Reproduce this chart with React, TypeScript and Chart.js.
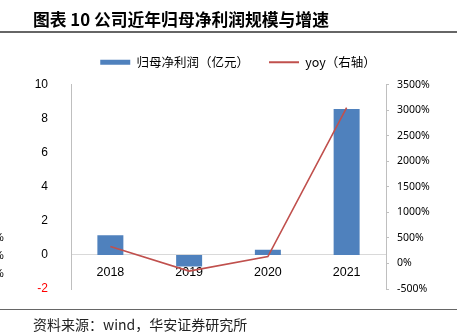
import React, { useEffect, useRef } from 'react';
import { Chart, registerables } from 'chart.js';

Chart.register(...registerables);

const categories = ['2018', '2019', '2020', '2021'];
const netProfit = [1.16, -0.68, 0.3, 8.57];
const yoyGrowth = [330, -150, 135, 3050];
const leftRange = [-2, 10, 2];
const rightRange = [-500, 3500, 500];
const strayPercentRows = [237, 255, 273];

const W = 457;
const H = 332;

export default function App() {
  const ref = useRef<HTMLCanvasElement>(null);

  useEffect(() => {
    const tickFont = { family: 'Liberation Sans', size: 12 };
    const chart = new Chart(ref.current as HTMLCanvasElement, {
      type: 'bar',
      data: {
        labels: categories,
        datasets: [
          {
            type: 'bar',
            label: '归母净利润（亿元）',
            data: netProfit,
            backgroundColor: '#4f81bd',
            borderWidth: 0,
            yAxisID: 'y',
            order: 1,
            pointStyle: 'rect',
            barPercentage: 0.33,
            categoryPercentage: 1,
          } as any,
          {
            type: 'line',
            label: 'yoy（右轴）',
            data: yoyGrowth,
            borderColor: '#c0504d',
            backgroundColor: '#c0504d',
            borderWidth: 1.6,
            pointRadius: 0,
            pointHoverRadius: 0,
            pointStyle: 'line',
            pointBorderWidth: 2,
            pointBorderColor: '#c0504d',
            yAxisID: 'y1',
            order: 0,
            tension: 0,
          } as any,
        ],
      },
      options: {
        responsive: false,
        animation: false,
        layout: { padding: { left: 19, right: 0, top: 36, bottom: 43 } },
        plugins: {
          legend: {
            position: 'top',
            labels: {
              usePointStyle: true,
              pointStyleWidth: 30,
              boxHeight: 5,
              padding: 20,
              color: '#000',
              font: { family: 'Noto Sans CJK SC', size: 12.5 },
              sort: (a: any, b: any) => a.datasetIndex - b.datasetIndex,
            },
          },
          subtitle: {
            display: true,
            text: ' ',
            position: 'top',
            weight: 500,
            font: { size: 1 },
            padding: { top: 0, bottom: 5 },
          } as any,
          tooltip: { enabled: false },
        },
        scales: {
          x: {
            position: { y: 0 } as any,
            grid: { display: false },
            border: { display: true, color: '#d9d9d9', width: 1 },
            ticks: { padding: 2, color: '#000', font: { family: 'Liberation Sans', size: 12.5 } },
            z: 1,
          },
          y: {
            position: 'left',
            min: leftRange[0],
            max: leftRange[1],
            ticks: {
              stepSize: leftRange[2],
              padding: 15,
              color: (c: any) => (c.tick && c.tick.value < 0 ? '#ff0000' : '#000'),
              font: tickFont,
            },
            grid: { display: false },
            border: { display: true, color: '#bfbfbf', width: 1 },
            afterFit: (s: any) => {
              s.width = 52;
            },
          },
          y1: {
            position: 'right',
            min: rightRange[0],
            max: rightRange[1],
            ticks: {
              stepSize: rightRange[2],
              padding: 8,
              color: '#000',
              font: { family: 'Noto Sans', size: 10.5 },
              callback: (v: any) => v + '%',
            },
            grid: { display: true, drawOnChartArea: false, drawTicks: true, tickLength: 3, color: '#bfbfbf' },
            border: { display: true, color: '#bfbfbf', width: 1 },
            afterFit: (s: any) => {
              s.width = 71;
            },
          },
        },
      } as any,
    });
    return () => chart.destroy();
  }, []);

  return (
    <div
      style={{
        position: 'fixed',
        left: 0,
        top: 0,
        width: W,
        height: H,
        overflow: 'hidden',
        background: '#fff',
      }}
    >
      <canvas ref={ref} width={W} height={H} style={{ position: 'absolute', left: 0, top: 0, display: 'block' }} />
      <div
        style={{
          position: 'absolute',
          left: 33,
          top: 10,
          fontFamily: '"Noto Sans CJK SC", sans-serif',
          fontWeight: 700,
          fontSize: 16.8,
          lineHeight: '18px',
          whiteSpace: 'nowrap',
          color: '#000',
        }}
      >
        图表 10 公司近年归母净利润规模与增速
      </div>
      <div style={{ position: 'absolute', left: 0, top: 31, width: W, height: 1.5, background: '#666' }} />
      <div style={{ position: 'absolute', left: 0, top: 308.5, width: W, height: 1.5, background: '#666' }} />
      <div
        style={{
          position: 'absolute',
          left: 33,
          top: 314.5,
          fontFamily: '"Noto Sans CJK SC", sans-serif',
          fontSize: 14,
          lineHeight: '18px',
          whiteSpace: 'nowrap',
          color: '#222',
        }}
      >
        资料来源：wind，华安证券研究所
      </div>
      {strayPercentRows.map((y) => (
        <div
          key={y}
          style={{
            position: 'absolute',
            left: -6,
            top: y - 7,
            fontFamily: 'Liberation Sans, sans-serif',
            fontSize: 11,
            lineHeight: '14px',
            color: '#000',
          }}
        >
          %
        </div>
      ))}
    </div>
  );
}
